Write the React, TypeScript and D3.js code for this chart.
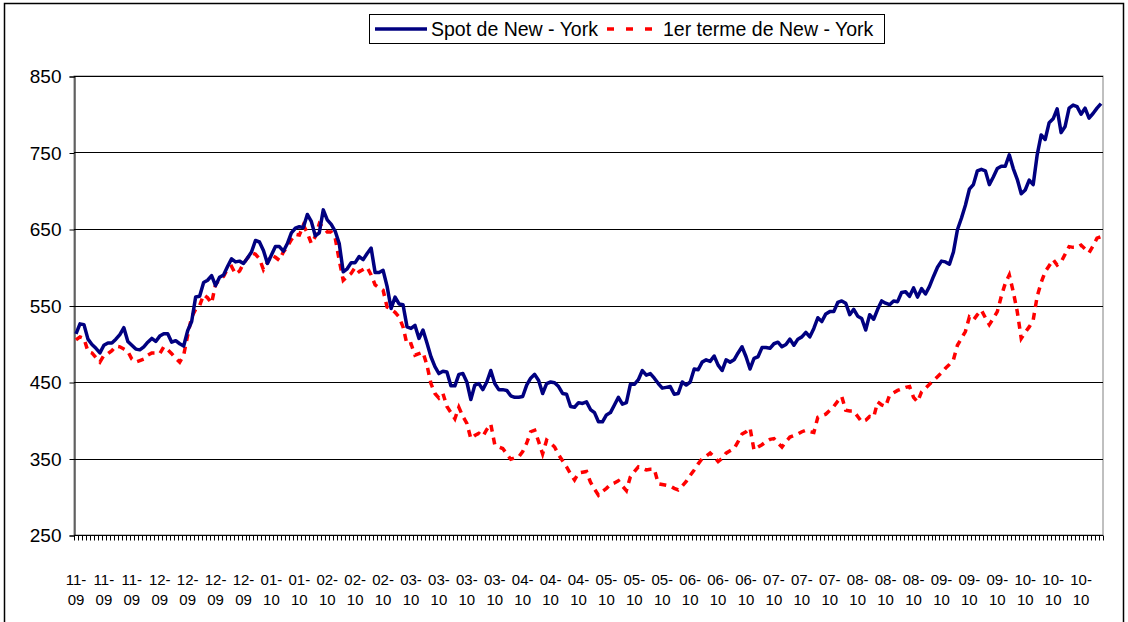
import React, { useEffect, useRef } from 'react';
import * as d3 from 'd3';

// daily quotes, one per trading day (Nov 2009 -> Oct 2010)
const spot = [
  513, 526, 525, 506, 499, 494, 488, 498, 501, 501, 506, 512, 521, 503, 498, 493, 492, 496, 502, 507,
  503, 510, 513, 513, 502, 504, 500, 497, 517, 529, 561, 562, 580, 583, 589, 576, 587, 590, 601, 611,
  607, 608, 605, 612, 620, 635, 633, 622, 605, 616, 627, 627, 621, 631, 645, 651, 653, 652, 669, 660,
  641, 645, 675, 662, 656, 647, 631, 594, 598, 606, 606, 614, 610, 618, 625, 593, 593, 596, 575, 546,
  561, 552, 551, 522, 520, 524, 507, 518, 501, 483, 470, 461, 464, 463, 445, 445, 460, 461, 450, 427,
  446, 448, 440, 450, 465, 448, 440, 440, 439, 432, 430, 430, 431, 446, 455, 460, 452, 435, 448, 450,
  449, 444, 435, 434, 418, 417, 423, 422, 424, 414, 410, 398, 398, 407, 410, 420, 430, 421, 423, 447,
  447, 453, 465, 459, 461, 455, 448, 442, 443, 444, 434, 435, 450, 446, 450, 467, 466, 476, 479, 477,
  484, 472, 465, 479, 476, 479, 488, 496, 483, 467, 481, 483, 495, 495, 494, 500, 502, 496, 499, 506,
  498, 506, 509, 515, 509, 520, 534, 529, 539, 542, 542, 554, 556, 553, 538, 545, 536, 533, 518, 538,
  532, 545, 556, 553, 551, 556, 555, 567, 568, 562, 573, 561, 572, 565, 575, 588, 600, 608, 607, 604,
  620, 649, 664, 681, 702, 708, 726, 728, 726, 708, 718, 729, 732, 732, 747, 729, 715, 696, 701, 714,
  708, 747, 773, 767, 789, 794, 807, 776, 784, 808, 812, 810, 800, 808, 795, 801, 808, 814
];

const terme = [
  505, 509, 507, 490, 488, 482, 476, 485, 487, 491, 497, 496, 493, 490, 480, 476, 478, 480, 485, 488,
  488, 487, 496, 492, 487, 481, 476, 485, 511, 535, 545, 550, 564, 560, 553, 578, 583, 588, 598, 601,
  591, 595, 605, 612, 619, 617, 611, 597, 606, 616, 613, 609, 620, 627, 636, 643, 642, 655, 645, 631,
  640, 657, 652, 646, 646, 638, 609, 583, 588, 592, 600, 594, 597, 600, 590, 577, 573, 570, 548, 545,
  541, 535, 522, 499, 500, 485, 487, 489, 472, 448, 435, 429, 435, 418, 410, 402, 417, 405, 396, 376,
  380, 383, 379, 388, 395, 368, 365, 363, 356, 349, 351, 352, 359, 370, 385, 387, 372, 356, 374, 370,
  365, 355, 347, 339, 330, 322, 331, 332, 333, 319, 310, 302, 307, 311, 316, 318, 321, 314, 308, 326,
  333, 339, 337, 335, 336, 336, 317, 316, 315, 314, 311, 309, 314, 320, 328, 335, 343, 350, 353, 357,
  352, 346, 350, 357, 360, 363, 372, 382, 385, 390, 361, 365, 368, 372, 375, 376, 370, 365, 372, 378,
  380, 382, 385, 387, 385, 384, 404, 406, 408, 413, 418, 425, 431, 413, 412, 412, 405, 398, 400, 405,
  404, 424, 420, 418, 433, 436, 439, 441, 443, 444, 430, 424, 437, 442, 447, 452, 457, 462, 468, 473,
  479, 498, 507, 516, 535, 531, 538, 544, 534, 525, 533, 542, 562, 579, 590, 568, 542, 507, 515, 522,
  531, 562, 580, 594, 602, 610, 603, 607, 617, 627, 626, 626, 629, 624, 619, 628, 638, 640
];

const xLabels = [
  '11-09', '11-09', '11-09', '12-09', '12-09', '12-09', '12-09', '01-10', '01-10', '02-10',
  '02-10', '02-10', '03-10', '03-10', '03-10', '03-10', '04-10', '04-10', '04-10', '05-10',
  '05-10', '05-10', '06-10', '06-10', '06-10', '07-10', '07-10', '07-10', '08-10', '08-10',
  '08-10', '09-10', '09-10', '09-10', '10-10', '10-10', '10-10'
];
const labelEvery = 7;

const yTicks = [250, 350, 450, 550, 650, 750, 850];

const seriesNames = ['Spot de New - York', '1er terme de New - York'];

const FONT = "'Liberation Sans', Arial, sans-serif";

const App = () => {
  const ref = useRef(null);

  useEffect(() => {
    const svg = d3.select(ref.current);
    svg.selectAll('*').remove();

    const width = 1128;
    const height = 622;
    const margin = { top: 76, right: 25, bottom: 87, left: 74 };
    const n = spot.length;

    const xScale = d3.scaleBand()
      .domain(d3.range(n))
      .range([margin.left, width - margin.right]);
    const xc = (i) => xScale(i) + xScale.bandwidth() / 2;

    const yScale = d3.scaleLinear()
      .domain([250, 850])
      .range([height - margin.bottom, margin.top]);

    // chart frame
    svg.append('rect')
      .attr('x', 4.5).attr('y', 3.5)
      .attr('width', 1119).attr('height', 700)
      .attr('fill', 'white')
      .attr('stroke', '#000')
      .attr('stroke-width', 1.5);

    // plot area border
    svg.append('rect')
      .attr('x', margin.left).attr('y', margin.top)
      .attr('width', width - margin.right - margin.left)
      .attr('height', height - margin.bottom - margin.top)
      .attr('fill', 'white')
      .attr('stroke', '#808080');

    // gridlines
    svg.append('g')
      .selectAll('line')
      .data(yTicks)
      .join('line')
      .attr('x1', margin.left).attr('x2', width - margin.right)
      .attr('y1', d => Math.round(yScale(d)) + 0.5)
      .attr('y2', d => Math.round(yScale(d)) + 0.5)
      .attr('stroke', '#000')
      .attr('stroke-width', 1);

    // y axis
    svg.append('g')
      .attr('transform', `translate(${margin.left + 0.5},0.5)`)
      .call(d3.axisLeft(yScale).tickValues(yTicks).tickSize(5).tickPadding(8))
      .call(g => {
        g.select('.domain').attr('stroke', '#000');
        g.selectAll('line').attr('stroke', '#000');
        g.selectAll('text')
          .attr('fill', '#000')
          .style('font-size', '19px')
          .style('font-family', FONT);
      });

    // x axis: one small tick per trading day
    const xBase = Math.round(yScale(250)) + 0.5;
    svg.append('line')
      .attr('x1', margin.left).attr('x2', width - margin.right)
      .attr('y1', xBase).attr('y2', xBase)
      .attr('stroke', '#000');
    svg.append('g')
      .selectAll('line')
      .data(d3.range(n + 1))
      .join('line')
      .attr('x1', i => Math.round(margin.left + i * xScale.step()) + 0.5)
      .attr('x2', i => Math.round(margin.left + i * xScale.step()) + 0.5)
      .attr('y1', xBase).attr('y2', xBase + 5)
      .attr('stroke', '#000');

    const labels = svg.append('g')
      .selectAll('text')
      .data(xLabels)
      .join('text')
      .attr('x', (d, k) => xc(k * labelEvery))
      .attr('text-anchor', 'middle')
      .style('font-size', '15px')
      .style('font-family', FONT)
      .attr('fill', '#000');
    labels.append('tspan')
      .attr('x', (d, k) => xc(k * labelEvery))
      .attr('y', 585)
      .text(d => d.split('-')[0] + '-');
    labels.append('tspan')
      .attr('x', (d, k) => xc(k * labelEvery))
      .attr('y', 605)
      .text(d => d.split('-')[1]);

    const line = d3.line()
      .x((d, i) => xc(i))
      .y(d => yScale(d));

    svg.append('path')
      .attr('d', line(terme))
      .attr('fill', 'none')
      .attr('stroke', '#FF0000')
      .attr('stroke-width', 3.5)
      .attr('stroke-dasharray', '7,6');

    svg.append('path')
      .attr('d', line(spot))
      .attr('fill', 'none')
      .attr('stroke', '#000080')
      .attr('stroke-width', 3.5)
      .attr('stroke-linejoin', 'round');

    // legend
    const legend = svg.append('g');
    legend.append('rect')
      .attr('x', 369.5).attr('y', 14.5)
      .attr('width', 515).attr('height', 29)
      .attr('fill', 'white')
      .attr('stroke', '#000');
    const items = [
      { name: seriesNames[0], x: 375, len: 52, textX: 431, color: '#000080', dash: null },
      { name: seriesNames[1], x: 607, len: 46, textX: 663, color: '#FF0000', dash: '7,12' }
    ];
    items.forEach(it => {
      legend.append('line')
        .attr('x1', it.x).attr('x2', it.x + it.len)
        .attr('y1', 29).attr('y2', 29)
        .attr('stroke', it.color)
        .attr('stroke-width', 3.5)
        .attr('stroke-dasharray', it.dash);
      legend.append('text')
        .attr('x', it.textX).attr('y', 35.5)
        .style('font-size', '19.5px')
        .style('font-family', FONT)
        .attr('fill', '#000')
        .text(it.name);
    });
  }, []);

  return (
    <svg
      ref={ref}
      width={1128}
      height={622}
      style={{ position: 'absolute', left: 0, top: 0, background: 'white' }}
    />
  );
};

export default App;
